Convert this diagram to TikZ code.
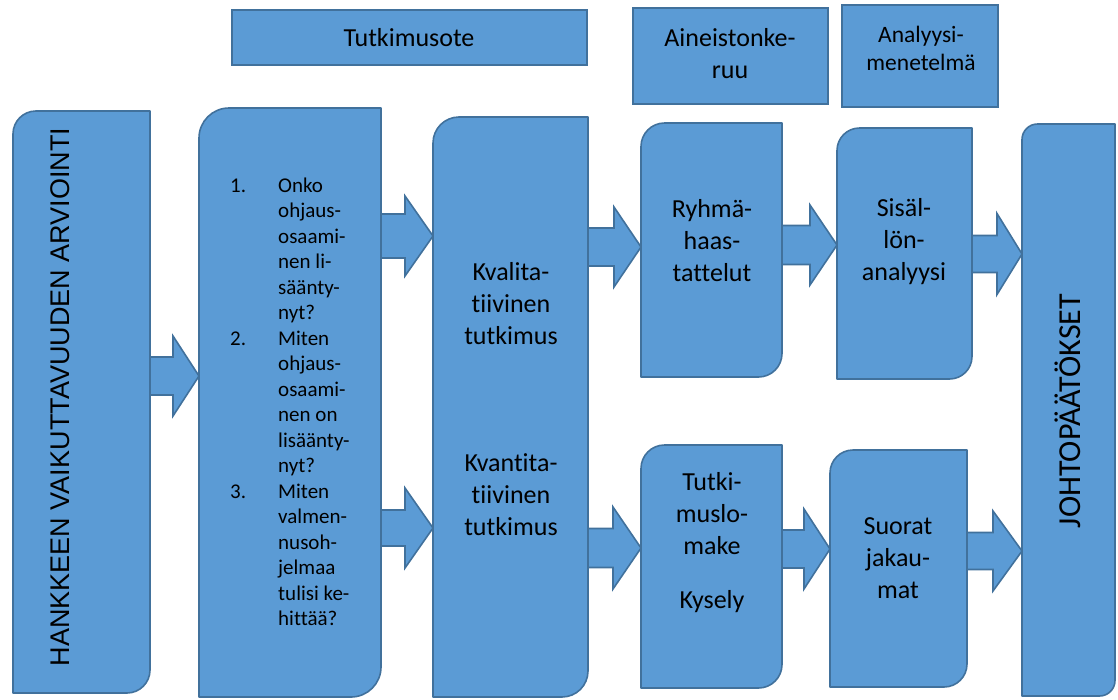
\documentclass[tikz,border=0pt]{standalone}
\usepackage{fontspec}
\setmainfont{Carlito}[Ligatures={NoCommon}]
\newfontfamily\arialf{Liberation Sans}
\usetikzlibrary{calc,fit,backgrounds}
\definecolor{boxfill}{HTML}{5B9BD5}
\definecolor{boxline}{HTML}{41719C}
\tikzset{
  holder/.style={inner sep=0pt, outer sep=0pt, draw=none},
  boxdraw/.style={draw=boxline, fill=boxfill, line width=1.6pt, line join=round},
  topbox/.style={holder, draw=boxline, fill=boxfill, line width=1.6pt},
  arrowbox/.style={draw=boxline, fill=boxfill, line width=1.6pt, line join=miter},
  bigtxt/.style={font=\fontsize{26}{32}\selectfont, align=center, inner sep=0pt},
}
% rounded top-left and bottom-right corners
\newcommand\diagshape[2]{%
  \begin{scope}[on background layer]
  \draw[boxdraw] ([xshift=#2pt]#1.north west) -- (#1.north east) -- ([yshift=#2pt]#1.south east)
    arc[start angle=0,end angle=-90,radius=#2pt] -- (#1.south west) -- ([yshift=-#2pt]#1.north west)
    arc[start angle=180,end angle=90,radius=#2pt] -- cycle;
  \end{scope}}
% block arrow: from, to, tip y, shaft half height, head half height, head length
\newcommand\barrow[6]{%
  \coordinate (ty) at (0,#3);
  \draw[arrowbox] ($(#1.east |- ty)+(0,-#4)$) -- ($(#2.west |- ty)+(-#6,-#4)$)
    -- ($(#2.west |- ty)+(-#6,-#5)$) -- (#2.west |- ty) -- ($(#2.west |- ty)+(-#6,#5)$)
    -- ($(#2.west |- ty)+(-#6,#4)$) -- ($(#1.east |- ty)+(0,#4)$) -- cycle;}
\begin{document}
\begin{tikzpicture}[x=1pt,y=-1pt]
\useasboundingbox (0,0) rectangle (1118,699);

% top header boxes
\node[topbox, fit={(232,10) (587,65)}] (ts) {};
\node[bigtxt] (tstxt) at (409,38) {Tutkimusote};
\node[topbox, fit={(633,8) (828,104)}] (ai) {};
\node[bigtxt] (aitxt) at (730,54) {Aineistonke-\\ruu};
\node[topbox, fit={(842,5) (998,107)}] (an) {};
\node[font=\fontsize{23.5}{28}\selectfont, align=center, inner sep=0pt] (antxt) at (921,48) {Analyysi-\\menetelmä};

% main boxes
\node[holder, fit={(13,111) (150,693)}] (hank) {};
\diagshape{hank}{23}
\node[holder, fit={(199,108) (381,697)}] (kys) {};
\diagshape{kys}{30}
\node[holder, fit={(433,117) (588,697)}] (tutk) {};
\diagshape{tutk}{26}
\node[holder, fit={(641,123) (782,377)}] (ryh) {};
\diagshape{ryh}{23.5}
\node[holder, fit={(837,128) (972,379)}] (sis) {};
\diagshape{sis}{22.5}
\node[holder, fit={(641,445) (782,688)}] (tut2) {};
\diagshape{tut2}{23.5}
\node[holder, fit={(830,450) (967,687)}] (suo) {};
\diagshape{suo}{23}
\node[holder, fit={(1022,124) (1115,696)}] (joh) {};
\diagshape{joh}{15.5}

% texts
\node[rotate=90, font=\arialf\fontsize{27}{32}\selectfont, inner sep=0pt] (hanktxt) at (60,397) {HANKKEEN VAIKUTTAVUUDEN ARVIOINTI};
\node[anchor=west, inner sep=0pt, font=\fontsize{21}{25.5}\selectfont] (kystxt) at (230,404) {%
\begin{tabular}{@{}p{48pt}@{}l@{}}
1. & Onko\\
 & ohjaus-\\
 & osaami-\\
 & nen li-\\
 & säänty-\\
 & nyt?\\
2. & Miten\\
 & ohjaus-\\
 & osaami-\\
 & nen on\\
 & lisäänty-\\
 & nyt?\\
3. & Miten\\
 & valmen-\\
 & nusoh-\\
 & jelmaa\\
 & tulisi ke-\\
 & hittää?
\end{tabular}};
\node[bigtxt] (kvaltxt) at (511,304) {Kvalita-\\tiivinen\\tutkimus};
\node[bigtxt] (kvantxt) at (511,495) {Kvantita-\\tiivinen\\tutkimus};
\node[bigtxt] (ryhtxt) at (712,241) {Ryhmä-\\haas-\\tattelut};
\node[bigtxt] (sistxt) at (904,242) {Sisäl-\\lön-\\analyysi};
\node[bigtxt] (tuttxt) at (712,543) {Tutki-\\muslo-\\make\\[22pt]Kysely};
\node[bigtxt] (suotxt) at (898,558) {Suorat\\jakau-\\mat};
\node[rotate=90, font=\fontsize{32}{38}\selectfont, inner sep=0pt] (johtxt) at (1068,411) {JOHTOPÄÄTÖKSET};

% block arrows
\barrow{hank}{kys}{376}{19}{40}{26}
\barrow{kys}{tutk}{236}{22}{40}{28}
\barrow{kys}{tutk}{528}{18}{40}{28}
\barrow{tutk}{ryh}{247}{19}{40}{27}
\barrow{ryh}{sis}{245}{19.5}{40}{27}
\barrow{sis}{joh}{254}{18.5}{40.5}{25}
\barrow{tutk}{tut2}{548}{19.5}{41}{28}
\barrow{tut2}{suo}{549}{19}{40}{26}
\barrow{suo}{joh}{551}{18.5}{40}{29}
\end{tikzpicture}
\end{document}
